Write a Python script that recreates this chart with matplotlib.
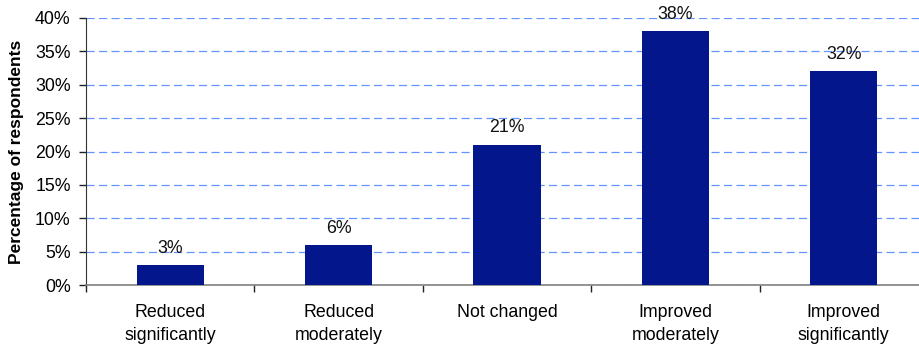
import matplotlib.pyplot as plt
from matplotlib.ticker import FuncFormatter

plt.rcParams['font.family'] = ['Liberation Sans', 'DejaVu Sans']

categories = ["Reduced\nsignificantly", "Reduced\nmoderately", "Not changed",
              "Improved\nmoderately", "Improved\nsignificantly"]
values = [3, 6, 21, 38, 32]
yticks = [0, 5, 10, 15, 20, 25, 30, 35, 40]

bar_color = "#03168c"
grid_color = "#6394ff"
fs = 12.8

fig = plt.figure(figsize=(9.19, 3.47), dpi=100)
ax = fig.add_axes([86 / 919, 62 / 347, 842 / 919, 267 / 347])

x = range(len(categories))
bars = ax.bar(x, values, width=0.4, color=bar_color, zorder=3)

for xi, v in zip(x, values):
    ax.annotate(f"{v}%", (xi, v), xytext=(0, 6), textcoords="offset points",
                ha="center", va="bottom", fontsize=fs, color="#111111")

ax.set_xlim(-0.5, 4.5)
ax.set_ylim(0, 40)
ax.set_yticks(yticks)
ax.yaxis.set_major_formatter(FuncFormatter(lambda v, p: f"{v:.0f}%"))

# category boundaries carry the ticks, labels sit at the centres
ax.set_xticks([i - 0.5 for i in range(len(categories) + 1)])
ax.set_xticklabels([])
ax.set_xticks(list(x), minor=True)
ax.set_xticklabels(categories, minor=True, fontsize=fs, linespacing=1.45)
ax.tick_params(axis="x", which="minor", length=0, pad=14)
ax.tick_params(axis="x", which="major", length=5, width=1, color="#222222")
ax.tick_params(axis="y", length=5, width=1, pad=6, labelsize=fs, color="#222222")

ax.yaxis.grid(True, color=grid_color, linestyle=(0, (6.5, 3.5)), linewidth=0.9, zorder=0)
ax.set_axisbelow(True)

for side in ("top", "right"):
    ax.spines[side].set_visible(False)
ax.spines["left"].set_color("#333333")
ax.spines["bottom"].set_color("#808080")
ax.spines["bottom"].set_linewidth(1.2)

ax.set_ylabel("Percentage of respondents", fontsize=12.5, fontweight="bold")
ax.yaxis.set_label_coords(-62 / 842, 0.5)

fig.savefig("out.png", dpi=100)
